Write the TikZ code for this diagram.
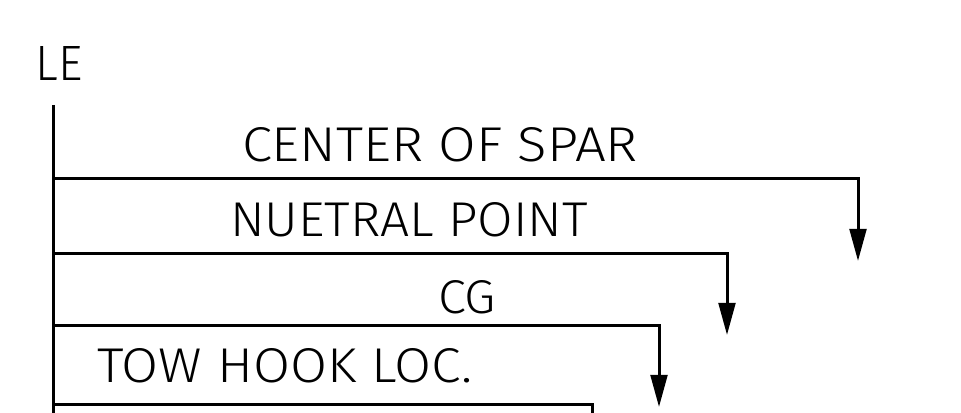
\documentclass[tikz,border=0pt]{standalone}
\usepackage{fontspec}
\setmainfont{Fira Sans}[UprightFont=* Light]
\usepackage{graphicx}
\usetikzlibrary{arrows.meta}
\newlength\pxu
\setlength\pxu{0.75pt}
\newcommand\fitlabel[3]{\resizebox{#1\pxu}{#2\pxu}{#3}}
\tikzset{
  refline/.style={line width=2.25pt, line cap=butt, line join=miter, draw=black},
  droparrow/.style={refline, -{Triangle[width=12.5pt,length=24pt]}},
  lbl/.style={anchor=south west, inner sep=0pt, outer sep=0pt}
}
\begin{document}
\begin{tikzpicture}[x=0.75pt,y=-0.75pt]
\useasboundingbox (0,0) rectangle (961,413);
\clip (0,0) rectangle (961,413);
\fill[white] (0,0) rectangle (961,413);
% datum line
\coordinate (leTop) at (53,105);
\coordinate (leBot) at (53,420);
\draw[refline] (leTop) -- (leBot);
% labels
\node[lbl] (le) at (36,81) {\fitlabel{47}{34}{LE}};
\node[lbl] (spar) at (242,162) {\fitlabel{396}{34}{CENTER OF SPAR}};
\node[lbl] (np) at (230,237) {\fitlabel{358}{34}{NUETRAL POINT}};
\node[lbl] (cg) at (438,314) {\fitlabel{58}{33}{CG}};
\node[lbl] (tow) at (97,383) {\fitlabel{375}{34}{TOW HOOK LOC.}};
% center of spar
\coordinate (sparL) at (53,179);
\coordinate (sparC) at (858,179);
\coordinate (sparT) at (858,261);
\draw[droparrow] (sparL) -- (sparC) -- (sparT);
% neutral point
\coordinate (npL) at (53,254);
\coordinate (npC) at (727,254);
\coordinate (npT) at (727,335);
\draw[droparrow] (npL) -- (npC) -- (npT);
% cg
\coordinate (cgL) at (53,326);
\coordinate (cgC) at (659,326);
\coordinate (cgT) at (659,407);
\draw[droparrow] (cgL) -- (cgC) -- (cgT);
% tow hook
\coordinate (towL) at (53,405);
\coordinate (towC) at (592,405);
\coordinate (towT) at (592,430);
\draw[refline] (towL) -- (towC) -- (towT);
\end{tikzpicture}
\end{document}
